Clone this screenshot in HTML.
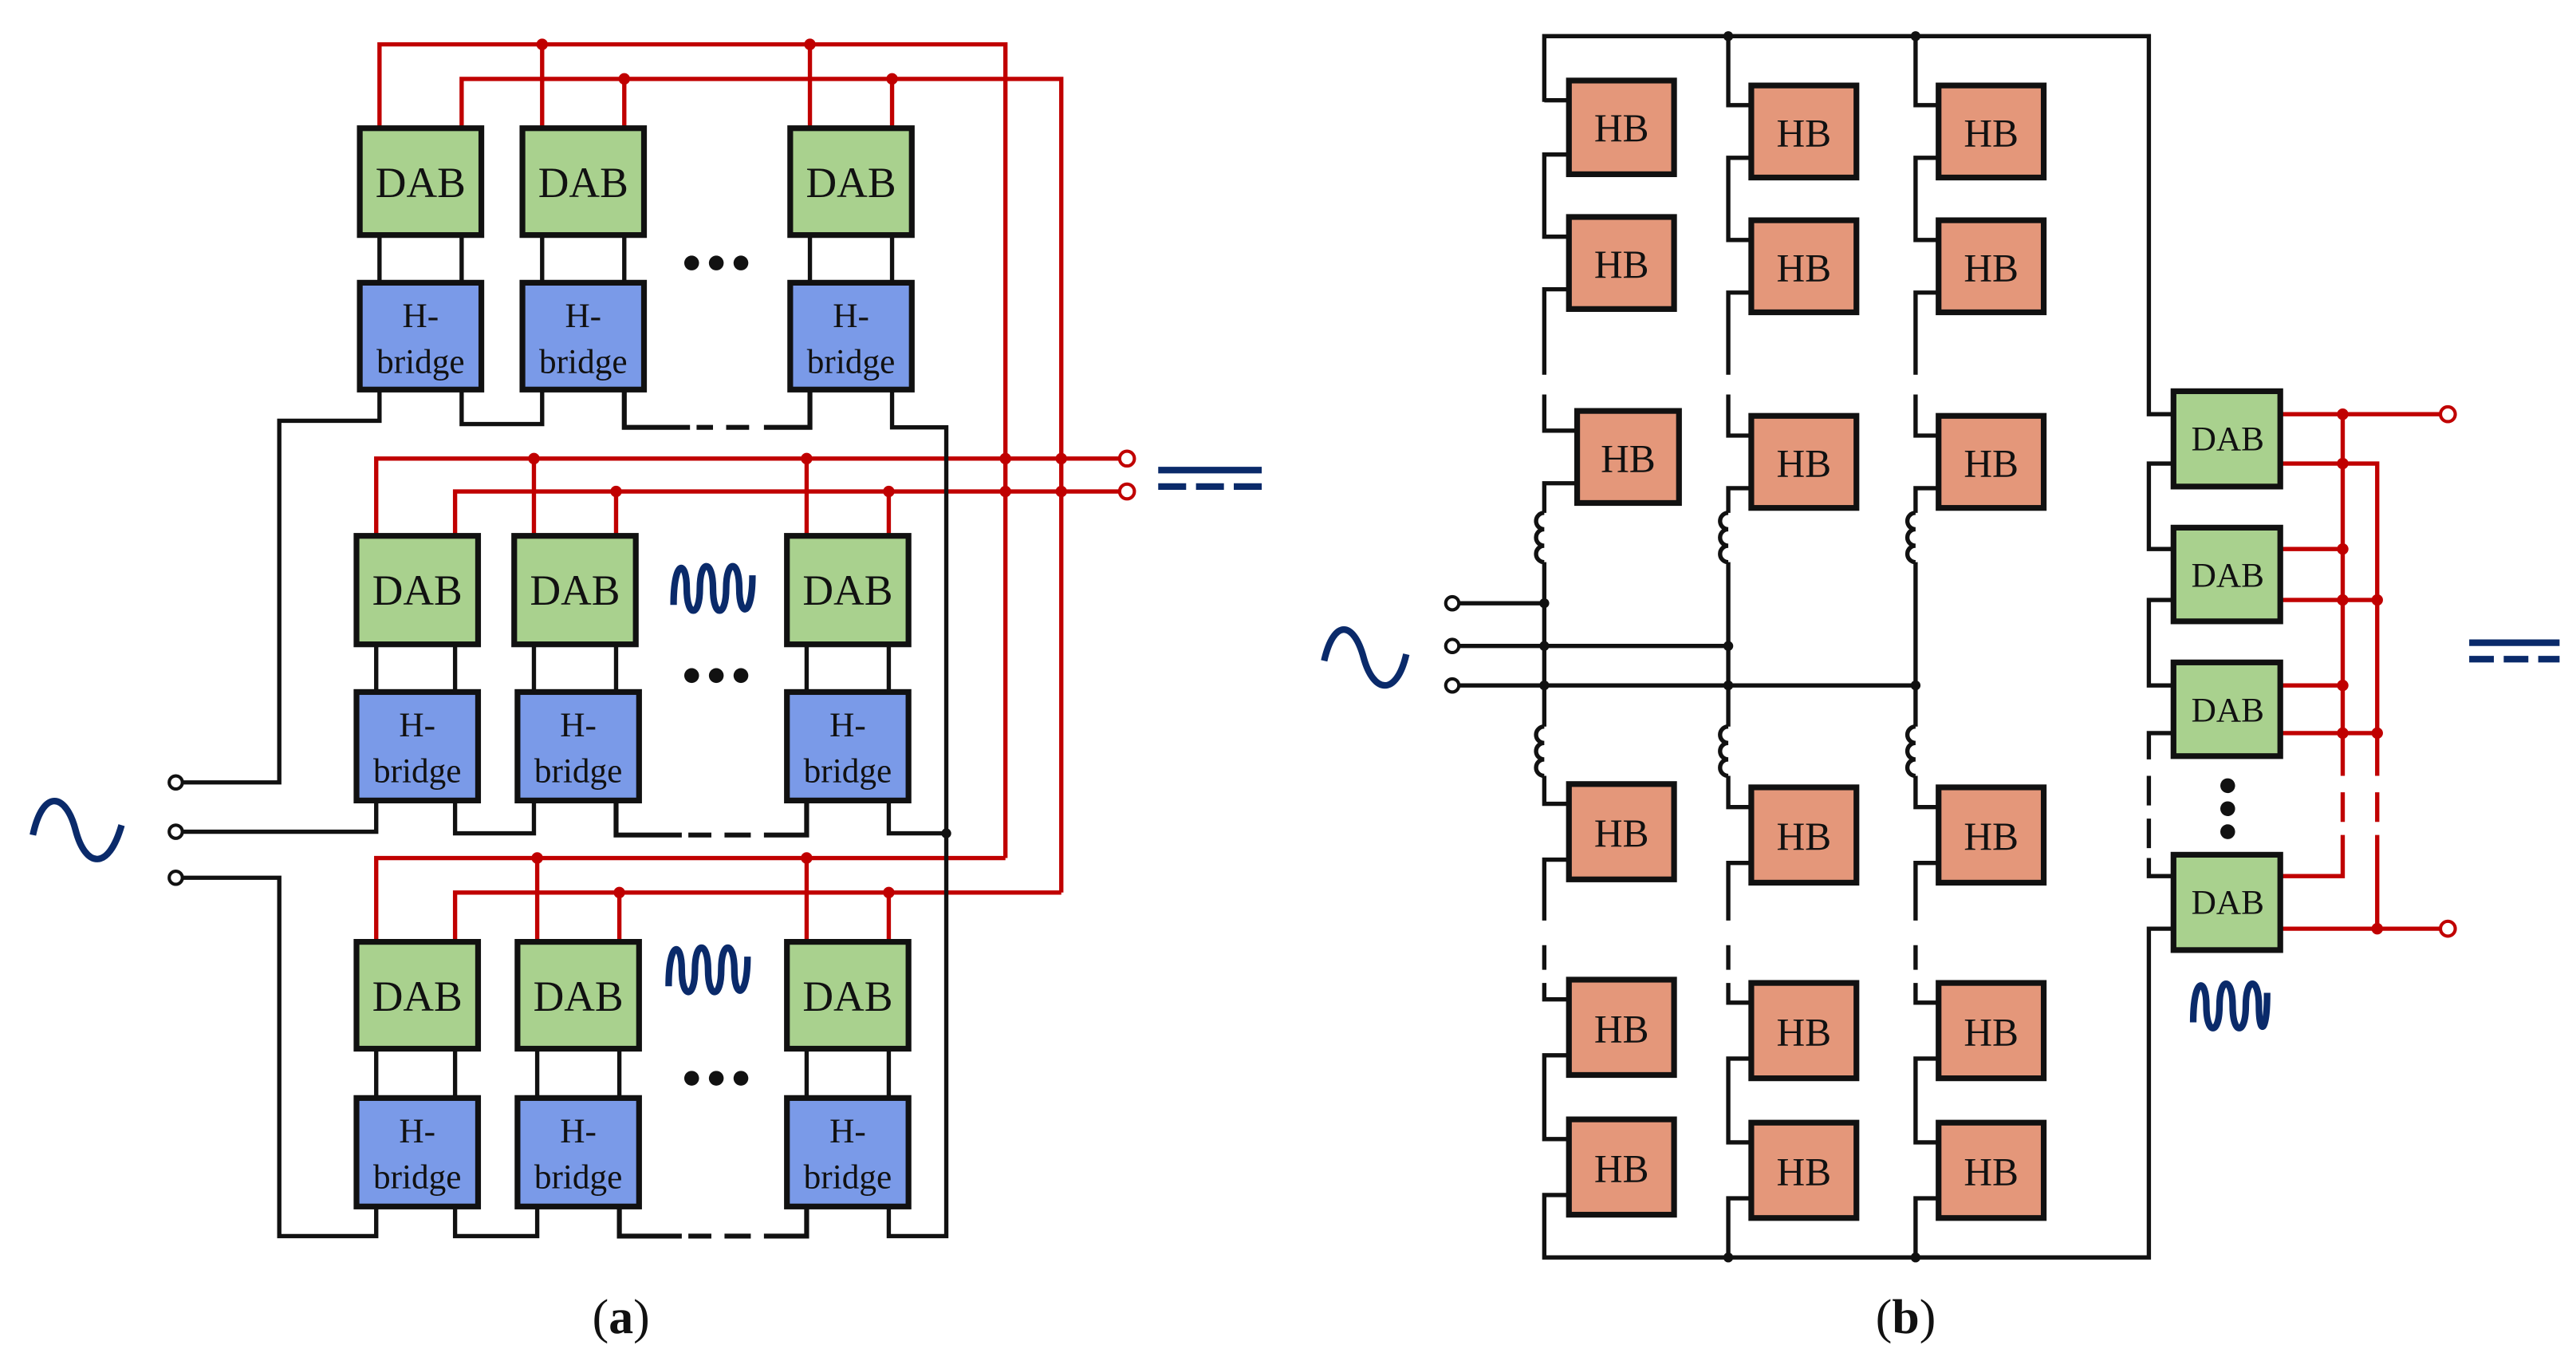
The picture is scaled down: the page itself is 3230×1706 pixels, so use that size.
<!DOCTYPE html>
<html><head><meta charset="utf-8"><style>
html,body{margin:0;padding:0;background:#fff;}
svg{display:block;}
text{font-family:"Liberation Serif",serif;fill:#111;text-anchor:middle;}
</style></head><body>
<svg width="3230" height="1706" viewBox="0 0 1568 828" preserveAspectRatio="none" xmlns="http://www.w3.org/2000/svg">
<rect width="1568" height="828" fill="#fff"/>
<!-- ===== (a) red buses ===== -->
<g fill="none" stroke="#c00000" stroke-width="2.6">
<path d="M231 78 V27 H612 V522"/><path d="M281 78 V48 H646 V543"/>
<path d="M330 78 V27 M380 78 V48 M493 78 V27 M543 78 V48"/>
<path d="M229 326 V279 H682"/><path d="M277 326 V299 H682"/>
<path d="M325 326 V279 M375 326 V299 M491 326 V279 M541 326 V299"/>
<path d="M229 573 V522 H612"/><path d="M277 573 V543 H646"/>
<path d="M327 573 V522 M377 573 V543 M491 573 V522 M541 573 V543"/>
<circle cx="686" cy="279" r="4.5" fill="#fff" stroke-width="2"/><circle cx="686" cy="299" r="4.5" fill="#fff" stroke-width="2"/>
</g>
<g fill="#c00000">
<circle cx="330" cy="27" r="3.5"/><circle cx="493" cy="27" r="3.5"/><circle cx="380" cy="48" r="3.5"/><circle cx="543" cy="48" r="3.5"/>
<circle cx="325" cy="279" r="3.5"/><circle cx="491" cy="279" r="3.5"/><circle cx="375" cy="299" r="3.5"/><circle cx="541" cy="299" r="3.5"/>
<circle cx="612" cy="279" r="3.5"/><circle cx="646" cy="279" r="3.5"/><circle cx="612" cy="299" r="3.5"/><circle cx="646" cy="299" r="3.5"/>
<circle cx="327" cy="522" r="3.5"/><circle cx="491" cy="522" r="3.5"/><circle cx="377" cy="543" r="3.5"/><circle cx="541" cy="543" r="3.5"/>
</g>
<!-- ===== (a) black wiring ===== -->
<g fill="none" stroke="#111" stroke-width="2.6">
<path d="M231 143 V172 M281 143 V172 M330 143 V172 M380 143 V172 M493 143 V172 M543 143 V172"/>
<path d="M229 392 V421 M277 392 V421 M325 392 V421 M375 392 V421 M491 392 V421 M541 392 V421"/>
<path d="M229 638 V668 M277 638 V668 M327 638 V668 M377 638 V668 M491 638 V668 M541 638 V668"/>
<path d="M231 237 V256 H170 V476 H111"/>
<path d="M281 237 V258 H330 V237"/>
<path d="M380 237 V260 H420 M465 260 H493 V237" stroke-width="3"/>
<path d="M543 237 V260 H576 V752 H541 V734"/>
<path d="M229 487 V506 H111"/>
<path d="M277 487 V507 H325 V487"/>
<path d="M375 487 V508 H415 M465 508 H491 V487" stroke-width="3"/>
<path d="M541 487 V507 H576"/>
<path d="M111 534 H170 V752 H229 V734"/>
<path d="M277 734 V752 H327 V734"/>
<path d="M377 734 V752 H415 M465 752 H491 V734" stroke-width="3"/>
<path d="M424 260 H434 M442 260 H456 M419 508 H433 M441 508 H457 M419 752 H433 M441 752 H457" stroke-width="3"/>
<circle cx="107" cy="476" r="4" fill="#fff" stroke-width="2"/><circle cx="107" cy="506" r="4" fill="#fff" stroke-width="2"/><circle cx="107" cy="534" r="4" fill="#fff" stroke-width="2"/>
</g>
<circle cx="576" cy="507" r="3" fill="#111"/>
<!-- (a) boxes -->
<g stroke="#111" stroke-width="3.5">
<g fill="#a9d18e">
<rect x="219" y="78" width="74" height="65"/><rect x="318" y="78" width="74" height="65"/><rect x="481" y="78" width="74" height="65"/>
<rect x="217" y="326" width="74" height="66"/><rect x="313" y="326" width="74" height="66"/><rect x="479" y="326" width="74" height="66"/>
<rect x="217" y="573" width="74" height="65"/><rect x="315" y="573" width="74" height="65"/><rect x="479" y="573" width="74" height="65"/>
</g>
<g fill="#7a9ae8">
<rect x="219" y="172" width="74" height="65"/><rect x="318" y="172" width="74" height="65"/><rect x="481" y="172" width="74" height="65"/>
<rect x="217" y="421" width="74" height="66"/><rect x="315" y="421" width="74" height="66"/><rect x="479" y="421" width="74" height="66"/>
<rect x="217" y="668" width="74" height="66"/><rect x="315" y="668" width="74" height="66"/><rect x="479" y="668" width="74" height="66"/>
</g>
</g>
<g font-size="26">
<text x="256" y="120">DAB</text><text x="355" y="120">DAB</text><text x="518" y="120">DAB</text>
<text x="254" y="368">DAB</text><text x="350" y="368">DAB</text><text x="516" y="368">DAB</text>
<text x="254" y="615">DAB</text><text x="352" y="615">DAB</text><text x="516" y="615">DAB</text>
</g>
<g font-size="21">
<text x="256" y="199">H-</text><text x="256" y="227">bridge</text>
<text x="355" y="199">H-</text><text x="355" y="227">bridge</text>
<text x="518" y="199">H-</text><text x="518" y="227">bridge</text>
<text x="254" y="448">H-</text><text x="254" y="476">bridge</text>
<text x="352" y="448">H-</text><text x="352" y="476">bridge</text>
<text x="516" y="448">H-</text><text x="516" y="476">bridge</text>
<text x="254" y="695">H-</text><text x="254" y="723">bridge</text>
<text x="352" y="695">H-</text><text x="352" y="723">bridge</text>
<text x="516" y="695">H-</text><text x="516" y="723">bridge</text>
</g>
<g fill="#111">
<circle cx="421" cy="160" r="4.5"/><circle cx="436" cy="160" r="4.5"/><circle cx="451" cy="160" r="4.5"/>
<circle cx="421" cy="411" r="4.5"/><circle cx="436" cy="411" r="4.5"/><circle cx="451" cy="411" r="4.5"/>
<circle cx="421" cy="656" r="4.5"/><circle cx="436" cy="656" r="4.5"/><circle cx="451" cy="656" r="4.5"/>
</g>
<!-- symbols -->
<g fill="none" stroke="#0a2a6a" stroke-width="4">
<path d="M410 368 C410 340 418 340 418 358 C418 376 426 376 426 358 C426 340 434 340 434 358 C434 376 442 376 442 358 C442 340 450 340 450 358 C450 376 458 376 458 350"/>
<path d="M407 600 C407 572 415 572 415 590 C415 608 423 608 423 590 C423 572 431 572 431 590 C431 608 439 608 439 590 C439 572 447 572 447 590 C447 608 455 608 455 582"/>
<path d="M1335 622 C1335 594 1343 594 1343 612 C1343 630 1351 630 1351 612 C1351 594 1359 594 1359 612 C1359 630 1367 630 1367 612 C1367 594 1375 594 1375 612 C1375 630 1380 630 1380 604"/>
<path d="M20 508 C26 480 40 482 46 505 C52 528 66 530 74 502"/>
<path d="M806 402 C812 376 824 378 830 400 C836 422 850 424 856 398"/>
<path d="M705 286 H768"/><path d="M705 296 H722 M728 296 H745 M751 296 H768"/>
<path d="M1503 391 H1558"/><path d="M1503 401 H1518 M1524 401 H1539 M1545 401 H1558"/>
</g>
<text x="378" y="811" font-size="30">(<tspan font-weight="bold">a</tspan>)</text>
<text x="1160" y="811" font-size="30">(<tspan font-weight="bold">b</tspan>)</text>
<!-- ===== (b) black wiring ===== -->
<g fill="none" stroke="#111" stroke-width="2.6">
<path d="M940 62 V22 H1308 V252 H1323"/>
<path d="M1052 22 V64 H1066 M1166 22 V64 H1180"/>
<!-- col1 -->
<path d="M955 61 H940 M955 94 H940 V144 H955 M955 176 H940 V228 M940 240 V262 H960 M960 294 H940 V312 M940 342 V442 M940 472 V489 H955 M955 523 H940 V560 M940 575 V590 M940 598 V608 H955 M955 642 H940 V693 H955 M955 727 H940 V765 H1308 V565 H1323"/>
<!-- col2 -->
<path d="M1066 96 H1052 V146 H1066 M1066 178 H1052 V228 M1052 240 V265 H1066 M1066 297 H1052 V312 M1052 342 V442 M1052 472 V491 H1066 M1066 525 H1052 V560 M1052 575 V590 M1052 598 V610 H1066 M1066 644 H1052 V695 H1066 M1066 729 H1052 V765"/>
<!-- col3 -->
<path d="M1180 96 H1166 V146 H1180 M1180 178 H1166 V228 M1166 240 V265 H1180 M1180 297 H1166 V312 M1166 342 V442 M1166 472 V491 H1180 M1180 525 H1166 V560 M1166 575 V590 M1166 598 V610 H1180 M1180 644 H1166 V695 H1180 M1180 729 H1166 V765"/>
<!-- inductors -->
<path d="M940 312 a5 5 0 0 0 0 10 a5 5 0 0 0 0 10 a5 5 0 0 0 0 10"/>
<path d="M1052 312 a5 5 0 0 0 0 10 a5 5 0 0 0 0 10 a5 5 0 0 0 0 10"/>
<path d="M1166 312 a5 5 0 0 0 0 10 a5 5 0 0 0 0 10 a5 5 0 0 0 0 10"/>
<path d="M940 442 a5 5 0 0 0 0 10 a5 5 0 0 0 0 10 a5 5 0 0 0 0 10"/>
<path d="M1052 442 a5 5 0 0 0 0 10 a5 5 0 0 0 0 10 a5 5 0 0 0 0 10"/>
<path d="M1166 442 a5 5 0 0 0 0 10 a5 5 0 0 0 0 10 a5 5 0 0 0 0 10"/>
<!-- AC inputs -->
<path d="M888 367 H940 M888 393 H1052 M888 417 H1166"/>
<circle cx="884" cy="367" r="4" fill="#fff" stroke-width="2"/><circle cx="884" cy="393" r="4" fill="#fff" stroke-width="2"/><circle cx="884" cy="417" r="4" fill="#fff" stroke-width="2"/>
<!-- DAB chain -->
<path d="M1323 282 H1308 V334 H1323 M1323 365 H1308 V417 H1323 M1323 446 H1308 V462 M1308 472 V490 M1308 498 V516 M1308 522 V533 H1323"/>
</g>
<g fill="#111">
<circle cx="1052" cy="22" r="3"/><circle cx="1166" cy="22" r="3"/><circle cx="1052" cy="765" r="3"/><circle cx="1166" cy="765" r="3"/>
<circle cx="940" cy="367" r="3"/><circle cx="940" cy="393" r="3"/><circle cx="1052" cy="393" r="3"/><circle cx="940" cy="417" r="3"/><circle cx="1052" cy="417" r="3"/><circle cx="1166" cy="417" r="3"/>
<circle cx="1356" cy="478" r="4.5"/><circle cx="1356" cy="492" r="4.5"/><circle cx="1356" cy="506" r="4.5"/>
</g>
<!-- (b) red -->
<g fill="none" stroke="#c00000" stroke-width="2.6">
<path d="M1388 252 H1486"/>
<path d="M1426 252 V472 M1426 482 V500 M1426 508 V533 H1388"/>
<path d="M1388 282 H1447 V472 M1447 482 V500 M1447 508 V565 H1486 M1388 565 H1447"/>
<path d="M1388 334 H1426 M1388 365 H1447 M1388 417 H1426 M1388 446 H1447"/>
<circle cx="1490" cy="252" r="4.5" fill="#fff" stroke-width="2"/><circle cx="1490" cy="565" r="4.5" fill="#fff" stroke-width="2"/>
</g>
<g fill="#c00000">
<circle cx="1426" cy="252" r="3.5"/><circle cx="1426" cy="282" r="3.5"/><circle cx="1426" cy="334" r="3.5"/><circle cx="1426" cy="365" r="3.5"/><circle cx="1447" cy="365" r="3.5"/>
<circle cx="1426" cy="417" r="3.5"/><circle cx="1426" cy="446" r="3.5"/><circle cx="1447" cy="446" r="3.5"/><circle cx="1447" cy="565" r="3.5"/>
</g>
<!-- (b) boxes -->
<g stroke="#111" stroke-width="3.5" fill="#e4977a">
<rect x="955" y="49" width="64" height="57"/><rect x="1066" y="52" width="64" height="56"/><rect x="1180" y="52" width="64" height="56"/>
<rect x="955" y="132" width="64" height="56"/><rect x="1066" y="134" width="64" height="56"/><rect x="1180" y="134" width="64" height="56"/>
<rect x="960" y="250" width="62" height="56"/><rect x="1066" y="253" width="64" height="56"/><rect x="1180" y="253" width="64" height="56"/>
<rect x="955" y="477" width="64" height="58"/><rect x="1066" y="479" width="64" height="58"/><rect x="1180" y="479" width="64" height="58"/>
<rect x="955" y="596" width="64" height="58"/><rect x="1066" y="598" width="64" height="58"/><rect x="1180" y="598" width="64" height="58"/>
<rect x="955" y="681" width="64" height="58"/><rect x="1066" y="683" width="64" height="58"/><rect x="1180" y="683" width="64" height="58"/>
</g>
<g stroke="#111" stroke-width="3.5" fill="#a9d18e">
<rect x="1323" y="238" width="65" height="58"/><rect x="1323" y="321" width="65" height="57"/><rect x="1323" y="403" width="65" height="57"/><rect x="1323" y="520" width="65" height="58"/>
</g>
<g font-size="24">
<text x="987" y="86">HB</text><text x="1098" y="89">HB</text><text x="1212" y="89">HB</text>
<text x="987" y="169">HB</text><text x="1098" y="171">HB</text><text x="1212" y="171">HB</text>
<text x="991" y="287">HB</text><text x="1098" y="290">HB</text><text x="1212" y="290">HB</text>
<text x="987" y="515">HB</text><text x="1098" y="517">HB</text><text x="1212" y="517">HB</text>
<text x="987" y="634">HB</text><text x="1098" y="636">HB</text><text x="1212" y="636">HB</text>
<text x="987" y="719">HB</text><text x="1098" y="721">HB</text><text x="1212" y="721">HB</text>
</g>
<g font-size="21">
<text x="1356" y="274">DAB</text><text x="1356" y="357">DAB</text><text x="1356" y="439">DAB</text><text x="1356" y="556">DAB</text>
</g>
</svg>
</body></html>
